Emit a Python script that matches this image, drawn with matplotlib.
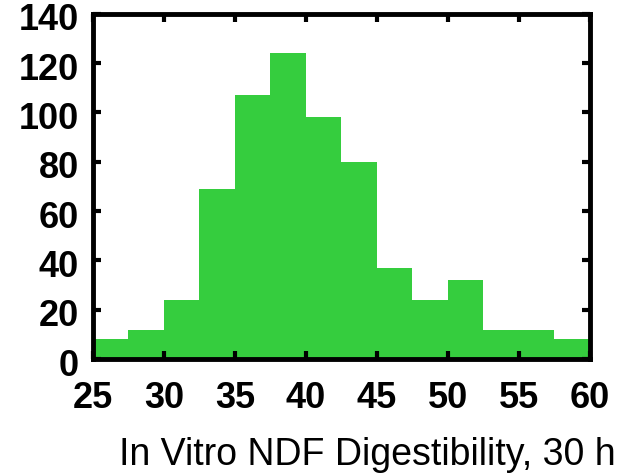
import numpy as np
import matplotlib.pyplot as plt
from matplotlib.transforms import ScaledTranslation

# histogram of in vitro NDF digestibility (bin width 2.5)
bin_edges = [25, 27.5, 30, 32.5, 35, 37.5, 40, 42.5, 45, 47.5, 50, 52.5, 55, 57.5, 60]
counts = [8, 12, 24, 69, 107, 124, 98, 80, 37, 24, 32, 12, 12, 8]
x_ticks = [25, 30, 35, 40, 45, 50, 55, 60]
y_ticks = [0, 20, 40, 60, 80, 100, 120, 140]

plt.rcParams["font.family"] = ["Liberation Sans", "DejaVu Sans"]

fig = plt.figure(figsize=(6.19, 4.75), dpi=100)
ax = fig.add_axes([0.150, 0.244, 0.803, 0.727])

edges = np.array(bin_edges)
ax.bar(edges[:-1], counts, width=np.diff(edges), align="edge",
       color="#35CD3E", edgecolor="none", zorder=1)

ax.set_xlim(25, 60)
ax.set_ylim(0, 140)
ax.set_xticks(x_ticks)
ax.set_yticks(y_ticks)

for s in ax.spines.values():
    s.set_linewidth(3.5)
    s.set_zorder(3)

ax.tick_params(axis="x", direction="in", length=6, width=3, top=True,
               labelsize=26, pad=16)
ax.tick_params(axis="y", direction="in", length=6, width=3, right=True,
               labelsize=26, pad=10)
for lab in ax.get_xticklabels() + ax.get_yticklabels():
    lab.set_fontweight("bold")
for lab in ax.get_yticklabels():
    lab.set_transform(lab.get_transform() + ScaledTranslation(0, -3 / 100, fig.dpi_scale_trans))

ax.set_xlabel("In Vitro NDF Digestibility, 30 h", fontsize=27)
ax.xaxis.set_label_coords(0.553, -0.278)
ax.xaxis.label.set_va("center")

fig.savefig("out.png", dpi=100)
